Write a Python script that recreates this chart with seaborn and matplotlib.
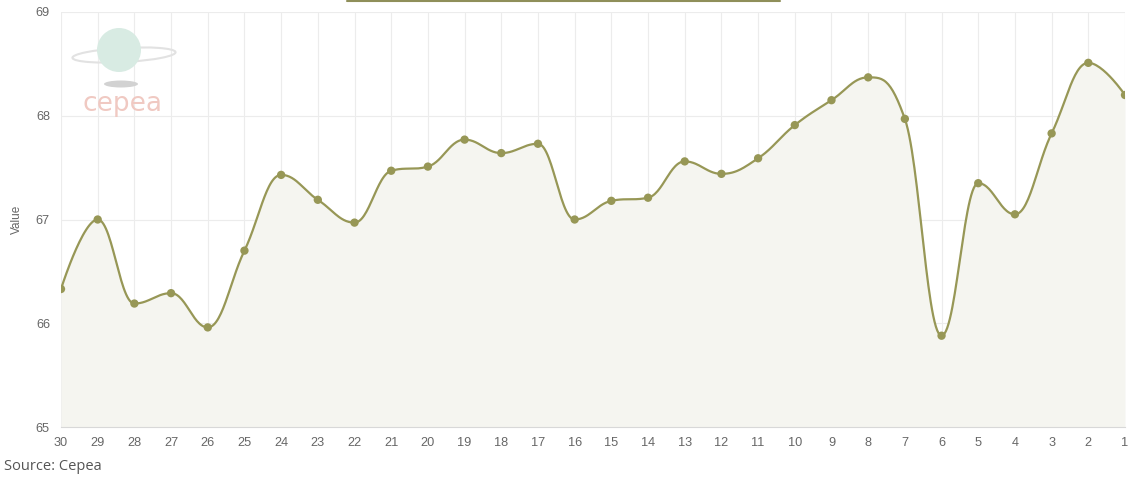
import numpy as np
import pandas as pd
import matplotlib
matplotlib.use('Agg')
import matplotlib.pyplot as plt
import seaborn as sns
from matplotlib.patches import Ellipse
from matplotlib.lines import Line2D

# dias (eixo x) e valores
dias = ['30', '29', '28', '27', '26', '25', '24', '23', '22', '21', '20', '19', '18', '17', '16',
        '15', '14', '13', '12', '11', '10', '9', '8', '7', '6', '5', '4', '3', '2', '1']
valores = [66.33, 67.00, 66.19, 66.29, 65.96, 66.70, 67.43, 67.19, 66.97, 67.47,
           67.51, 67.77, 67.64, 67.73, 67.00, 67.18, 67.21, 67.56, 67.44, 67.59,
           67.91, 68.15, 68.37, 67.97, 65.88, 67.35, 67.05, 67.83, 68.51, 68.20]
y_ticks = [65, 66, 67, 68, 69]

COR_LINHA = '#979756'
COR_AREA = '#f5f5f0'
COR_TEXTO = '#666666'
COR_GRADE = '#ececec'


def spline(xs, ys, smoothing=1.5, passos=30):
    """Curva do tipo spline (controle como no Highcharts) a partir dos pontos."""
    n = len(xs)
    left = [(x, y) for x, y in zip(xs, ys)]
    right = [(x, y) for x, y in zip(xs, ys)]
    den = smoothing + 1
    for i in range(1, n - 1):
        lx, ly = xs[i - 1], ys[i - 1]
        nx, ny = xs[i + 1], ys[i + 1]
        px, py = xs[i], ys[i]
        lcx = (smoothing * px + lx) / den
        lcy = (smoothing * py + ly) / den
        rcx = (smoothing * px + nx) / den
        rcy = (smoothing * py + ny) / den
        corr = ((rcy - lcy) * (rcx - px)) / (rcx - lcx) + py - rcy
        lcy += corr
        rcy += corr
        if lcy > ly and lcy > py:
            lcy = max(ly, py)
            rcy = 2 * py - lcy
        elif lcy < ly and lcy < py:
            lcy = min(ly, py)
            rcy = 2 * py - lcy
        if rcy > ny and rcy > py:
            rcy = max(ny, py)
            lcy = 2 * py - rcy
        elif rcy < ny and rcy < py:
            rcy = min(ny, py)
            lcy = 2 * py - rcy
        left[i] = (lcx, lcy)
        right[i] = (rcx, rcy)
    t = np.linspace(0, 1, passos)
    cx, cy = [], []
    for i in range(n - 1):
        p0 = np.array([xs[i], ys[i]])
        p1 = np.array(right[i])
        p2 = np.array(left[i + 1])
        p3 = np.array([xs[i + 1], ys[i + 1]])
        b = ((1 - t) ** 3)[:, None] * p0 + (3 * (1 - t) ** 2 * t)[:, None] * p1 \
            + (3 * (1 - t) * t ** 2)[:, None] * p2 + (t ** 3)[:, None] * p3
        cx.extend(b[:, 0])
        cy.extend(b[:, 1])
    return np.array(cx), np.array(cy)


sns.set_style('white')
plt.rcParams['font.family'] = ['Liberation Sans', 'DejaVu Sans']

df = pd.DataFrame({'dia': dias, 'valor': valores})
df['pos'] = np.arange(len(df))

fig = plt.figure(figsize=(11.4, 4.82), dpi=100)
ax = fig.add_axes([61 / 1140, 1 - 427 / 482, (1125 - 61) / 1140, (427 - 12) / 482])

cx, cy = spline(df['pos'].values.astype(float), df['valor'].values)
ax.fill_between(cx, cy, 65, color=COR_AREA, zorder=1, lw=0)
sns.lineplot(x=cx, y=cy, sort=False, estimator=None, color=COR_LINHA, lw=1.6, ax=ax, zorder=2)
sns.scatterplot(data=df, x='pos', y='valor', s=36, color=COR_LINHA, edgecolor='none', ax=ax, zorder=3)

ax.set_xlim(0, len(dias) - 1)
ax.set_ylim(65, 69)
ax.set_xticks(df['pos'])
ax.set_xticklabels(dias)
ax.set_yticks(y_ticks)
ax.grid(True, color=COR_GRADE, lw=0.8, zorder=0)
ax.set_axisbelow(True)
for lado in ['top', 'right', 'left']:
    ax.spines[lado].set_visible(False)
ax.spines['bottom'].set_color('#d8d8d8')
ax.tick_params(axis='x', length=5, color='#d8d8d8', labelcolor=COR_TEXTO, labelsize=9.2, pad=2)
ax.tick_params(axis='y', length=4, color='#d8d8d8', labelcolor=COR_TEXTO, labelsize=9.2, pad=4)
ax.set_xlabel('')
ax.set_ylabel('Value', color=COR_TEXTO, fontsize=8.5, labelpad=9)

# fonte
fig.text(4 / 1140, 1 - 467 / 482, 'Source: Cepea', fontsize=10.5, color='#555555',
         family='Open Sans', va='center', ha='left')

# linha no topo
fig.add_artist(Line2D([347 / 1140, 780 / 1140], [1 - 0.8 / 482, 1 - 0.8 / 482],
                      color='#8f8f5a', lw=1.5, transform=fig.transFigure))

# logotipo (aproximado)
w, h = 1140, 482
fig.add_artist(Ellipse((124 / w, 1 - 55 / h), 104 / w, 14 / h, angle=8, fill=False,
                       ec='#e2e2e2', lw=1.5, transform=fig.transFigure))
fig.add_artist(Ellipse((119 / w, 1 - 50 / h), 44 / w, 44 / h, fc='#d8ebe3', ec='none',
                       transform=fig.transFigure))
fig.add_artist(Ellipse((121 / w, 1 - 84 / h), 34 / w, 7 / h, fc='#d2d2d2', ec='none',
                       transform=fig.transFigure))
fig.text(123 / w, 1 - 104 / h, 'cepea', fontsize=19, color='#f0c9c2', ha='center',
         va='center', family='DejaVu Sans')

fig.savefig('out.png', dpi=100)
